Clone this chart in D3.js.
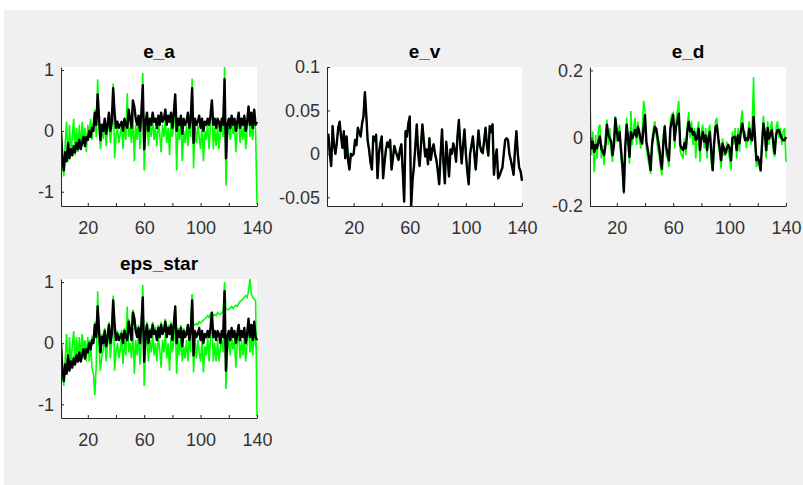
<!DOCTYPE html>
<html><head><meta charset="utf-8">
<script src="https://cdn.jsdelivr.net/npm/d3@7"></script>
<style>body{margin:0;background:#fff}svg{display:block}</style>
</head><body><svg id="c" width="803" height="485"></svg>
<script>
const xTicks=[20,40,60,80,100,120,140];
const xLabels=[20,60,100,140];
const titles=['e_a','e_v','e_d','eps_star'];

const eaBlack=[0.0,-0.45,-0.65,-0.35,-0.5,-0.2,-0.45,-0.3,-0.4,-0.25,
-0.35,-0.2,-0.3,-0.15,-0.3,-0.2,-0.1,-0.25,-0.1,-0.15,
0.0,-0.1,0.05,0.0,0.3,0.1,0.6,0.2,-0.15,0.1,
0.0,0.2,-0.05,0.1,0.3,0.0,0.15,0.7,0.3,0.05,
0.15,0.05,0.1,0.15,0.0,0.2,0.1,0.05,0.35,0.2,
0.05,0.5,0.4,0.2,0.1,0.25,0.0,0.3,0.75,-0.3,
0.15,0.3,0.0,0.2,0.1,0.3,0.15,0.2,0.05,0.25,
0.1,0.3,0.15,0.2,0.35,0.1,0.25,0.15,0.3,0.05,
0.3,0.6,0.0,0.2,0.1,0.25,-0.05,0.2,0.1,0.15,
0.3,0.05,0.2,0.7,-0.2,0.2,0.1,0.15,0.25,0.05,
0.2,0.0,0.15,0.1,0.2,0.1,0.25,0.5,0.1,0.2,
0.05,0.2,0.15,0.0,0.2,0.1,0.85,-0.45,0.1,0.2,
0.05,0.25,0.1,0.2,0.0,0.15,0.3,0.05,0.2,0.1,
0.25,0.0,0.15,0.4,0.1,0.3,0.05,0.35,0.1,0.15];

const eaGreen=[0.1,-0.55,-0.75,-0.2,0.15,-0.5,0.1,-0.4,-0.1,0.2,
-0.4,0.05,-0.35,0.1,-0.3,0.15,-0.2,0.05,-0.35,0.1,
-0.1,0.2,-0.15,0.15,0.35,-0.1,0.85,0.05,-0.3,-0.05,
-0.1,0.15,-0.25,0.0,0.2,-0.2,0.05,0.78,-0.45,-0.1,
0.05,-0.2,-0.05,0.1,-0.3,0.1,-0.15,0.62,-0.1,0.05,
-0.2,0.3,-0.5,0.1,-0.15,0.2,-0.3,0.1,0.95,-0.65,
0.0,0.2,-0.25,0.1,-0.1,0.2,-0.15,0.05,-0.25,0.15,
-0.05,-0.35,0.1,-0.1,0.2,-0.2,0.05,-0.4,0.15,-0.1,
0.1,0.5,-0.65,0.1,-0.15,0.2,-0.5,0.0,-0.2,0.1,
-0.25,0.15,-0.1,0.86,-0.62,0.05,-0.2,0.1,-0.1,-0.3,
0.1,-0.5,0.0,-0.15,0.15,-0.3,0.1,0.5,-0.3,0.05,
-0.25,0.1,-0.3,-0.05,0.1,-0.1,1.05,-0.9,-0.1,0.15,
-0.15,0.15,-0.05,0.1,-0.35,0.05,0.2,-0.2,0.1,-0.15,
0.15,-0.3,0.05,0.4,-0.1,0.15,-0.15,0.3,0.0,-1.2];

const evBlack=[0.02,0.022,0.0,-0.014,0.032,0.01,0.0,0.013,0.03,0.037,
0.02,0.007,0.026,-0.005,0.02,-0.007,-0.018,0.0,-0.002,0.0,
0.016,0.01,0.03,0.025,0.02,0.035,0.043,0.071,0.045,0.015,
0.005,-0.01,-0.018,0.02,0.015,0.022,-0.028,0.0,0.012,0.02,
-0.028,-0.01,0.005,0.013,0.008,0.016,-0.018,-0.005,0.009,0.003,
-0.002,-0.007,0.005,0.011,-0.02,-0.055,0.026,0.02,0.035,0.043,
-0.06,-0.03,-0.014,0.01,0.034,0.0,-0.014,0.01,0.034,0.015,
-0.003,0.005,-0.012,0.018,-0.007,0.005,0.011,0.0,-0.007,-0.02,
-0.035,0.0,0.028,-0.01,-0.034,0.014,-0.005,-0.026,0.005,0.0,
0.012,0.005,-0.009,0.02,0.039,0.01,-0.011,0.01,0.028,0.0,
-0.02,-0.035,0.0,0.01,0.02,0.0,-0.018,0.005,0.027,0.01,
0.003,0.001,0.015,0.03,0.01,-0.002,0.032,0.025,0.034,-0.024,
-0.005,0.005,-0.028,-0.025,-0.02,-0.016,0.0,0.016,0.018,0.016,
0.0,-0.007,-0.015,-0.024,0.005,0.026,0.0,-0.016,-0.02,-0.031];

const evGreen=evBlack.slice();

const edBlack=[0.0,-0.03,-0.01,-0.04,-0.02,-0.03,-0.01,0.005,-0.03,-0.04,
-0.05,-0.02,0.04,0.01,0.0,-0.01,-0.05,-0.02,0.058,0.02,
-0.006,0.018,-0.035,-0.08,-0.158,-0.025,0.04,0.0,-0.055,0.018,
0.0,0.01,0.024,0.004,0.033,0.018,-0.005,-0.016,0.03,0.068,
-0.01,-0.035,-0.06,-0.094,-0.02,0.01,0.033,0.028,0.0,-0.025,
-0.06,-0.09,-0.015,0.034,-0.025,-0.045,-0.065,0.028,0.05,0.068,
-0.006,0.033,0.05,0.072,-0.02,-0.03,-0.035,-0.015,-0.03,0.02,
0.048,0.02,0.028,0.01,0.018,-0.005,0.0,0.028,-0.035,0.0,
0.018,-0.01,0.008,-0.035,0.0,0.018,-0.04,-0.094,-0.015,0.033,
0.038,0.0,-0.03,-0.065,-0.016,-0.03,-0.045,-0.03,-0.02,-0.03,
-0.065,0.0,0.004,0.004,-0.035,0.008,-0.015,0.02,0.043,0.018,
-0.006,0.0,-0.006,0.028,0.0,-0.006,0.063,0.004,-0.065,-0.055,
-0.07,-0.094,-0.02,0.043,0.018,-0.035,0.03,-0.001,0.01,0.024,
-0.015,-0.045,0.01,0.024,0.024,0.01,0.0,-0.006,-0.006,0.004];

const edGreen=[0.117,-0.05,0.02,-0.1,0.01,-0.06,0.03,0.04,-0.06,-0.02,
-0.08,0.01,0.055,-0.02,0.03,-0.04,-0.07,0.01,0.065,-0.01,
0.02,0.04,-0.06,-0.1,-0.165,-0.05,0.06,-0.02,-0.075,0.08,
-0.02,0.03,0.06,-0.02,0.05,0.0,-0.03,0.02,0.11,0.08,
-0.03,-0.06,-0.08,-0.105,0.0,0.03,0.05,0.01,-0.03,-0.05,
-0.085,-0.11,0.01,0.04,-0.05,-0.06,-0.085,0.05,0.07,0.075,
-0.03,0.05,0.08,0.11,-0.04,-0.05,-0.06,0.0,-0.05,0.04,
0.077,0.0,0.05,-0.02,0.03,-0.06,0.02,0.05,-0.07,0.02,
0.04,-0.03,0.03,-0.06,0.02,0.04,-0.07,-0.098,-0.04,0.05,
0.06,-0.02,-0.05,-0.09,0.0,-0.05,-0.05,-0.01,-0.04,-0.06,
-0.095,0.02,-0.02,0.03,-0.06,0.03,-0.04,0.05,0.082,0.0,
0.02,-0.03,0.02,0.05,-0.02,0.03,0.18,-0.02,-0.085,-0.07,
-0.08,-0.1,0.0,0.067,0.0,-0.06,0.05,-0.02,0.03,0.05,
-0.04,-0.055,0.03,0.05,0.0,0.03,-0.02,0.02,0.03,-0.07];

const epsBlack=[0.0,-0.45,-0.62,-0.35,-0.5,-0.2,-0.45,-0.3,-0.4,-0.25,
-0.35,-0.2,-0.3,-0.15,-0.3,-0.2,-0.1,-0.25,-0.1,-0.15,
0.0,-0.1,0.05,0.0,0.3,0.1,0.6,0.2,-0.15,0.1,
0.0,0.2,-0.05,0.1,0.3,0.0,0.15,0.7,0.3,0.05,
0.15,0.05,0.1,0.15,0.0,0.2,0.1,0.05,0.35,0.2,
0.05,0.5,0.4,0.2,0.1,0.25,0.0,0.3,0.75,-0.3,
0.15,0.3,0.0,0.2,0.1,0.3,0.15,0.2,0.05,0.25,
0.1,0.3,0.15,0.2,0.35,0.1,0.25,0.15,0.3,0.05,
0.3,0.6,0.0,0.2,0.1,0.25,-0.05,0.2,0.1,0.15,
0.3,0.05,0.2,0.7,-0.2,0.2,0.1,0.15,0.25,0.05,
0.2,0.0,0.15,0.1,0.2,0.1,0.25,0.5,0.1,0.2,
0.05,0.2,0.15,0.0,0.2,0.1,0.85,-0.45,0.1,0.2,
0.05,0.25,0.1,0.2,0.0,0.15,0.3,0.05,0.2,0.1,
0.25,0.0,0.15,0.4,0.1,0.3,0.05,0.35,0.1,0.05];

const epsGreenLow=[0.05,-0.5,-0.7,-0.25,0.15,-0.45,0.1,-0.35,-0.05,0.2,
-0.35,0.1,-0.3,0.1,-0.25,0.15,-0.15,0.05,-0.3,0.1,
-0.3,0.0,-0.4,-0.5,-0.85,-0.35,0.85,-0.1,-0.45,-0.2,
-0.1,0.15,-0.3,0.0,0.2,-0.25,0.05,0.78,-0.45,-0.15,
0.0,-0.25,-0.1,0.1,-0.35,0.05,-0.2,0.6,-0.15,0.0,
-0.25,0.25,-0.5,0.05,-0.2,0.15,-0.35,0.05,0.95,-0.7,
-0.05,0.15,-0.3,0.05,-0.15,0.15,-0.2,0.0,-0.3,0.1,
-0.1,-0.4,0.05,-0.15,0.15,-0.25,0.0,-0.45,0.1,-0.15,
0.05,0.45,-0.5,0.05,-0.2,0.15,-0.3,-0.05,-0.25,0.05,
-0.3,0.1,-0.15,0.8,-0.48,0.0,-0.25,0.05,-0.15,-0.3,
0.05,-0.48,-0.05,-0.2,0.1,-0.3,0.05,0.45,-0.3,0.0,
-0.3,0.05,-0.3,-0.1,0.05,-0.15,0.6,-0.75,-0.15,0.1,
-0.2,0.1,-0.1,0.05,-0.4,0.0,0.15,-0.25,0.05,-0.2,
0.1,-0.3,0.0,0.35,-0.15,0.1,-0.2,0.25,-0.05,-0.1];

const epsGreenHigh=[0.0,-0.4,-0.55,-0.3,-0.4,-0.15,-0.4,-0.25,-0.35,-0.2,
-0.3,-0.15,-0.25,-0.1,-0.25,-0.15,-0.05,-0.2,-0.05,-0.1,
0.05,-0.05,0.1,0.05,0.35,0.15,0.6,0.25,-0.1,0.15,
0.05,0.25,0.0,0.15,0.35,0.05,0.2,0.7,0.35,0.1,
0.2,0.1,0.15,0.2,0.05,0.25,0.15,0.1,0.4,0.25,
0.1,0.55,0.45,0.25,0.15,0.3,0.05,0.35,0.8,-0.2,
0.2,0.35,0.05,0.25,0.15,0.35,0.2,0.25,0.1,0.3,
0.15,0.35,0.2,0.25,0.4,0.15,0.3,0.2,0.35,0.1,
0.35,0.6,0.05,0.25,0.15,0.3,0.0,0.25,0.15,0.2,
0.3,0.2,0.25,0.8,0.3,0.3,0.32,0.3,0.35,0.33,
0.35,0.38,0.4,0.42,0.45,0.42,0.48,0.5,0.45,0.47,
0.45,0.5,0.48,0.47,0.5,0.52,1.0,0.55,0.55,0.55,
0.58,0.6,0.57,0.6,0.62,0.6,0.65,0.68,0.7,0.72,
0.75,0.78,0.75,0.85,1.05,0.8,0.75,0.72,0.7,-1.2];

const GREEN='#00ff00', BLACK='#000000', AXC='#333333';
const svg=d3.select('#c');
svg.append('rect').attr('x',4).attr('y',10).attr('width',799).attr('height',475).attr('fill','#f0f0f0');

const panels=[
 {title:titles[0], series:[eaGreen,eaBlack], colors:[GREEN,BLACK], yDomain:[-1.235,1.05], yTicks:[-1,0,1], box:[61,257,67,206]},
 {title:titles[1], series:[evGreen,evBlack], colors:[GREEN,BLACK], yDomain:[-0.06,0.1], yTicks:[-0.05,0,0.05,0.1], box:[327,522,67,206]},
 {title:titles[2], series:[edGreen,edBlack], colors:[GREEN,BLACK], yDomain:[-0.2,0.21], yTicks:[-0.2,0,0.2], box:[590,786,67,206]},
 {title:titles[3], series:[epsGreenLow,epsGreenHigh,epsBlack], colors:[GREEN,GREEN,BLACK], yDomain:[-1.224,1.05], yTicks:[-1,0,1], box:[61,257,279,418]}
];

panels.forEach((p,pi)=>{
  const [x0,x1,y0,y1]=p.box;
  const x=d3.scaleLinear().domain([1,140]).range([x0,x1]);
  const y=d3.scaleLinear().domain(p.yDomain).range([y1,y0]);
  const g=svg.append('g');
  g.append('rect').attr('x',x0).attr('y',y0).attr('width',x1-x0).attr('height',y1-y0).attr('fill','#fff');
  const cid='clip'+pi;
  g.append('clipPath').attr('id',cid).append('rect').attr('x',x0).attr('y',y0-1).attr('width',x1-x0+1).attr('height',y1-y0+1);
  const line=d3.line().x((d,i)=>x(i+1)).y(d=>y(d));
  p.series.forEach((s,si)=>{
    const isB=p.colors[si]===BLACK;
    g.append('path').datum(s).attr('d',line).attr('fill','none')
     .attr('stroke',p.colors[si]).attr('stroke-width',isB?2.4:1.6)
     .attr('stroke-linejoin',isB?'round':'miter')
     .attr('clip-path','url(#'+cid+')');
  });
  const xa=g.append('g').attr('transform',`translate(0,${y1})`)
    .call(d3.axisBottom(x).tickValues(xTicks).tickSizeInner(-3).tickSizeOuter(0).tickPadding(15)
      .tickFormat(d=>xLabels.includes(d)?String(d):''));
  const ya=g.append('g').attr('transform',`translate(${x0},0)`)
    .call(d3.axisLeft(y).tickValues(p.yTicks).tickSizeInner(-3).tickSizeOuter(0).tickPadding(7)
      .tickFormat(d=>String(d)));
  [xa,ya].forEach(a=>{
    a.selectAll('path,line').attr('stroke','#262626');
    a.selectAll('text').attr('fill',AXC).style('font-family','"Liberation Sans",Arial,sans-serif').style('font-size','18px');
  });
  g.append('text').attr('x',(x0+x1)/2).attr('y',y0-9).attr('text-anchor','middle')
    .style('font-family','"Liberation Sans",Arial,sans-serif').style('font-size','19px').style('font-weight','bold')
    .attr('fill','#000').text(p.title);
});
</script></body></html>
